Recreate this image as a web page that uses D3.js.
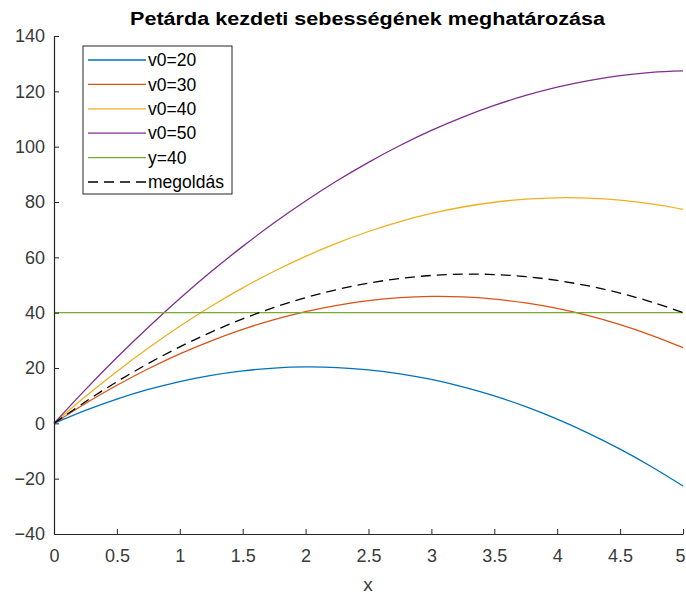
<!DOCTYPE html>
<html>
<head>
<meta charset="utf-8">
<script src="https://cdn.jsdelivr.net/npm/d3@7"></script>
<style>
body{margin:0;background:#fff;}
text{font-family:"Liberation Sans",Arial,sans-serif;}
</style>
</head>
<body>
<svg id="chart" width="686" height="594"></svg>
<script>
const xs = [0,0.25,0.5,0.75,1,1.25,1.5,1.75,2,2.25,2.5,2.75,3,3.25,3.5,3.75,4,4.25,4.5,4.75,5];
const v20 = [0,4.69,8.77,12.24,15.10,17.34,18.96,19.98,20.38,20.17,19.34,17.91,15.86,13.19,9.91,6.02,1.52,-3.60,-9.33,-15.67,-22.63];
const v30 = [0,7.19,13.77,19.74,25.10,29.84,33.96,37.48,40.38,42.67,44.34,45.41,45.86,45.69,44.91,43.52,41.52,38.90,35.67,31.83,27.37];
const v40 = [0,9.69,18.77,27.24,35.10,42.34,48.96,54.98,60.38,65.17,69.34,72.91,75.86,78.19,79.91,81.02,81.52,81.40,80.67,79.33,77.37];
const v50 = [0,12.19,23.77,34.74,45.10,54.84,63.96,72.48,80.38,87.67,94.34,100.41,105.86,110.69,114.91,118.52,121.52,123.90,125.67,126.83,127.37];
const yLine = [40,40];
const yLineX = [0,5];
const sol = [0,7.82,15.04,21.64,27.63,33.00,37.76,41.91,45.44,48.36,50.67,52.37,53.45,53.91,53.77,53.01,51.64,49.65,47.06,43.85,40.02];
const xTicks = [0,0.5,1,1.5,2,2.5,3,3.5,4,4.5,5];
const yTicks = [-40,-20,0,20,40,60,80,100,120,140];
const legendLabels = ["v0=20","v0=30","v0=40","v0=50","y=40","megoldás"];
const colors = ["#0072BD","#D95319","#EDB120","#7E2F8E","#77AC30","#000000"];
const title = "Petárda kezdeti sebességének meghatározása";
const xLabel = "x";

const svg = d3.select("#chart");
const L = 54, R = 683, T = 36, B = 534;
const x = d3.scaleLinear().domain([0,5]).range([L,R]);
const y = d3.scaleLinear().domain([-40,140]).range([B,T]);

const series = [
  {xs: xs, ys: v20, c: colors[0]},
  {xs: xs, ys: v30, c: colors[1]},
  {xs: xs, ys: v40, c: colors[2]},
  {xs: xs, ys: v50, c: colors[3]},
  {xs: yLineX, ys: yLine, c: colors[4]},
  {xs: xs, ys: sol, c: colors[5], dash: "10,6"}
];
const line = d3.line().x(d=>x(d[0])).y(d=>y(d[1])).curve(d3.curveCatmullRom.alpha(0.5));
series.forEach(s=>{
  svg.append("path")
    .datum(s.xs.map((v,i)=>[v,s.ys[i]]))
    .attr("d", line)
    .attr("fill","none")
    .attr("stroke", s.c)
    .attr("stroke-width", 1.3)
    .attr("stroke-dasharray", s.dash || null);
});

const xAxis = d3.axisBottom(x).tickValues(xTicks).tickSizeInner(-5).tickSizeOuter(0).tickPadding(15).tickFormat(d=>d3.format("~g")(d));
const gx = svg.append("g").attr("transform",`translate(0,${B})`).call(xAxis);
const yAxis = d3.axisLeft(y).tickValues(yTicks).tickSizeInner(-5).tickSizeOuter(0).tickPadding(9);
const gy = svg.append("g").attr("transform",`translate(${L},0)`).call(yAxis);
[gx,gy].forEach(g=>{
  g.select(".domain").attr("stroke","#262626").attr("stroke-width",1.2);
  g.selectAll(".tick line").attr("stroke","#262626");
  g.selectAll(".tick text").attr("fill","#3a3a3a").style("font-size","18px").style("font-family","'Liberation Sans',Arial,sans-serif");
});
// keep last x tick label inside the picture
gx.selectAll(".tick text").filter(d=>d===5).attr("text-anchor","end").attr("dx","2");

svg.append("text").attr("x",(L+R)/2 - 1).attr("y",25).attr("text-anchor","middle")
  .attr("textLength",475).attr("lengthAdjust","spacingAndGlyphs")
  .style("font-size","17.5px").style("font-weight","bold").attr("fill","#000").text(title);
svg.append("text").attr("x",368).attr("y",591).attr("text-anchor","middle")
  .style("font-size","19px").attr("fill","#3a3a3a").text(xLabel);

// legend
const lg = svg.append("g");
lg.append("rect").attr("x",83).attr("y",46).attr("width",149).attr("height",148)
  .attr("fill","#fff").attr("stroke","#262626").attr("stroke-width",1);
legendLabels.forEach((lab,i)=>{
  const cy = 60 + i*24.4;
  lg.append("line").attr("x1",88).attr("x2",146).attr("y1",cy).attr("y2",cy)
    .attr("stroke",colors[i]).attr("stroke-width",1.3)
    .attr("stroke-dasharray", i===5 ? "10,6" : null);
  lg.append("text").attr("x",148).attr("y",cy).attr("dy","0.35em")
    .style("font-size","17.5px").attr("fill","#000").text(lab);
});
</script>
</body>
</html>
